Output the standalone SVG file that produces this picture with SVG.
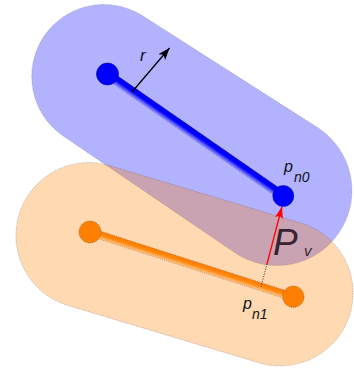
<svg xmlns="http://www.w3.org/2000/svg" width="354" height="375" viewBox="0 0 354 375">
  <style>
    .capsule { stroke: #555; stroke-opacity: 0.5; stroke-width: 0.6; stroke-dasharray: 1.5 1; }
    .lbl { font-family: "Liberation Sans", Arial, sans-serif; font-style: italic; fill: #111; }
    .sub { font-size: 14px; }
  </style>
  <defs>
    <linearGradient id="gBlue" x1="0" y1="0" x2="0" y2="1">
      <stop offset="0" stop-color="#0000e8"/>
      <stop offset="0.5" stop-color="#0000ff"/>
      <stop offset="1" stop-color="#9a9aff"/>
    </linearGradient>
    <linearGradient id="gOrange" x1="0" y1="0" x2="0" y2="1">
      <stop offset="0" stop-color="#ff7a00"/>
      <stop offset="0.5" stop-color="#ff8a10"/>
      <stop offset="1" stop-color="#ffc890"/>
    </linearGradient>
    <marker id="arrBlack" markerUnits="userSpaceOnUse" markerWidth="14" markerHeight="10" refX="12" refY="5" orient="auto">
      <path d="M0,0.5 L12,5 L0,9.5 L3,5 Z" fill="#000"/>
    </marker>
    <marker id="arrRed" markerUnits="userSpaceOnUse" markerWidth="14" markerHeight="10" refX="12" refY="5" orient="auto">
      <path d="M0,1 L12,5 L0,9 L2.5,5 Z" fill="#ff0000"/>
    </marker>
  </defs>

  <g id="capsule-n0">
    <path class="capsule" fill="#0000ff" fill-opacity="0.3" d="M141.7,15.3 L316.4,126.8 A75,75 0 1 1 233.9,252 L62.5,135.5 A72,72 0 0 1 141.7,15.3 Z"/>
  </g>
  <g id="capsule-n1">
    <path class="capsule" fill="#ff8000" fill-opacity="0.3" d="M107.95,165.1 L302.95,223.6 A73,73 0 0 1 261.05,363.4 L66.05,304.9 A73,73 0 0 1 107.95,165.1 Z"/>
  </g>

  <g id="segment-n0">
    <rect x="107" y="69.5" width="214" height="9" fill="url(#gBlue)" stroke="#000050" stroke-width="0.5" stroke-dasharray="1 1" stroke-opacity="0.6" transform="rotate(34.72 107 74)"/>
    <circle cx="107.5" cy="74" r="11" fill="#0000ff" stroke="#0000a0" stroke-width="0.6"/>
    <circle cx="283.3" cy="196" r="10.5" fill="#0000ff" stroke="#0000a0" stroke-width="0.6"/>
  </g>
  <g id="segment-n1">
    <rect x="90" y="228" width="213" height="8" fill="url(#gOrange)" stroke="#6a3a10" stroke-width="0.5" stroke-dasharray="1 1" stroke-opacity="0.7" transform="rotate(17.76 90 232)"/>
    <circle cx="90" cy="232" r="11" fill="#ff8000" stroke="#7a4a1a" stroke-width="0.6" stroke-dasharray="1 1"/>
    <circle cx="293.3" cy="296.7" r="10.7" fill="#ff8000" stroke="#7a4a1a" stroke-width="0.6" stroke-dasharray="1 1"/>
  </g>

  <g id="connectors">
    <line x1="132" y1="92" x2="169.5" y2="48" stroke="#000" stroke-width="1.3" marker-end="url(#arrBlack)"/>
    <line x1="267" y1="264" x2="282" y2="206.5" stroke="#ff0000" stroke-width="1.3" marker-end="url(#arrRed)"/>
    <line x1="267" y1="264" x2="261" y2="287" stroke="#333" stroke-width="1" stroke-dasharray="1 1.5"/>
  </g>

  <g id="labels">
    <text class="lbl" x="140" y="61" font-size="17">r</text>
    <text class="lbl" x="284" y="172" font-size="16">p</text>
    <text class="lbl sub" x="294" y="181.5">n0</text>
    <text class="lbl" x="243" y="309" font-size="16">p</text>
    <text class="lbl sub" x="252" y="319">n1</text>
    <text x="273" y="255" font-family="Liberation Sans, Arial, sans-serif" font-style="italic" font-size="37" fill="#3a2232">P</text>
    <text x="304" y="256" font-family="Liberation Sans, Arial, sans-serif" font-style="italic" font-size="15" fill="#3a2232">v</text>
  </g>
</svg>
